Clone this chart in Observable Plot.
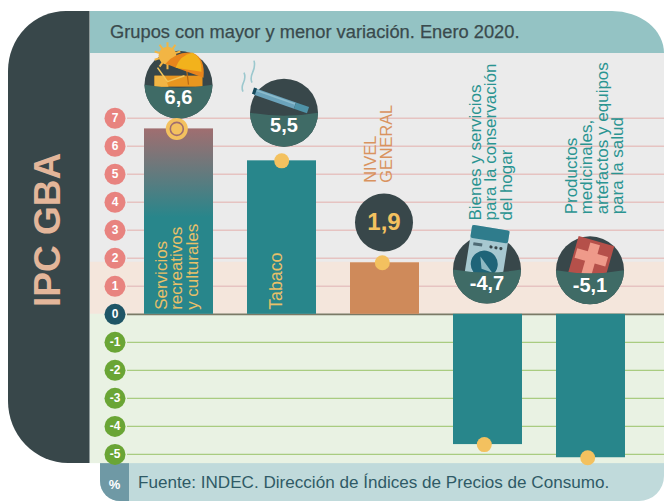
<!DOCTYPE html>
<html><head><meta charset="utf-8">
<script src="https://cdn.jsdelivr.net/npm/d3@7"></script>
<script src="https://cdn.jsdelivr.net/npm/@observablehq/plot@0.6"></script>
<style>
html,body{margin:0;padding:0;background:#fff;width:664px;height:501px;overflow:hidden;font-family:"Liberation Sans",sans-serif}
#page{position:relative;width:664px;height:501px}
.b{position:absolute}
#left{left:8px;top:11px;width:82px;height:452px;background:#38474a;border-radius:58px 0 0 60px/60px 0 0 62px;border-right:1px solid #8e9a9a;box-sizing:border-box}
#gray{left:90px;top:53px;width:574px;height:262px;background:#ebebeb}
#head{left:90px;top:11px;width:574px;height:42px;background:#94c3c4;border-top-right-radius:52px 42px;color:#3a4a4d;font-size:18.3px;font-weight:400;line-height:42px;text-indent:20px;-webkit-text-stroke:.25px #3a4a4d;white-space:nowrap}
#foot{left:100px;top:463px;width:564px;height:38px;background:#c0dadb;border-radius:0 0 25px 20px;color:#2f5a66;font-size:17.1px;line-height:40px;text-indent:38px;white-space:nowrap}
#pct{left:100px;top:463px;width:29px;height:38px;background:#6f99a5;border-radius:0 0 0 20px;color:#fff;font-size:13px;font-weight:700;line-height:44px;text-align:center}
#ipc{left:33px;top:153px;height:154px;width:30px;writing-mode:vertical-rl;transform:rotate(180deg);color:#e3b69a;font-size:37px;font-weight:700;line-height:30px;text-align:center;white-space:nowrap}
#chart{position:absolute;left:0;top:0}
</style></head><body>
<div id="page">
<div class="b" id="left"></div>
<div class="b" id="gray"></div>
<div class="b" id="head">Grupos con mayor y menor variación. Enero 2020.</div>
<div class="b" id="foot">Fuente: INDEC. Dirección de Índices de Precios de Consumo.</div>
<div class="b" id="pct">%</div>
<div class="b" id="ipc">IPC GBA</div>
<div id="chart"></div>
</div>
<script>
const categories = ["Servicios\nrecreativos\ny culturales","Tabaco","NIVEL\nGENERAL","Bienes y servicios\npara la conservación\ndel hogar","Productos\nmedicinales,\nartefactos y equipos\npara la salud"];
const barValues = [6.62,5.48,1.84,-4.65,-5.12];
const valueLabels = ["6,6","5,5","1,9","-4,7","-5,1"];
const tickValues = [7,6,5,4,3,2,1,0,-1,-2,-3,-4,-5];
const labelStart = [0.16,0.16,4.7,3.35,3.57];
const badgeCentre = [8.2,7.2,3.28,1.6,1.57];
const valueCentre = [7.75,6.74,3.3,1.09,1.02];

const rows = categories.map((c,i)=>({c,v:barValues[i],label:valueLabels[i],ls:labelStart[i],bc:badgeCentre[i],vc:valueCentre[i],i}));

const lower = '<path d="M-34,0Q0,6 34,0A34,34 0 0 1 -34,0Z" fill="#3f6b66"/>';
const wrap = (inner)=>"data:image/svg+xml,"+encodeURIComponent(
 `<svg xmlns="http://www.w3.org/2000/svg" width="120" height="120" viewBox="-60 -60 120 120"><circle r="34" fill="#38474a"/>${inner}${lower}</svg>`);
const sunRays = d3.range(0,360,36).map(a=>`<line x1="0" y1="-8" x2="0" y2="-13.5" transform="translate(-11,-29) rotate(${a})" stroke="#f2b544" stroke-width="2"/>`).join("");
const icons = [
 wrap(`${sunRays}<circle cx="-11" cy="-29" r="9" fill="#f2b544"/>
  <rect x="-24" y="-9" width="48" height="11" fill="#e8961f"/>
  <path d="M-24,-9L-14,-9L-10,2L-24,2Z" fill="#f2b544"/>
  <path d="M-21,-17L-11,-3L6,-9" fill="none" stroke="#f2c45a" stroke-width="1.6"/>
  <line x1="8" y1="-16" x2="10" y2="0" stroke="#b96a14" stroke-width="1.2"/>
  <path d="M-13,-21Q-2,-34 14,-32Q27,-27 25,-7Z" fill="#e8851c"/>
  <path d="M-3,-17Q2,-30 14,-32Q24,-27 23,-13Z" fill="#f2b21c"/>`),
 wrap(`<path d="M-41,-21C-45,-29 -36,-31 -40,-40" fill="none" stroke="#9cc8ce" stroke-width="1.6"/>
  <path d="M-32,-30C-36,-39 -27,-41 -30,-52" fill="none" stroke="#9cc8ce" stroke-width="1.6"/>
  <line x1="-29" y1="-21" x2="11" y2="-7" stroke="#6ba3bb" stroke-width="6.5"/>
  <line x1="-28" y1="-22.4" x2="11" y2="-8.6" stroke="#8dbccd" stroke-width="1.6"/>
  <line x1="11" y1="-7" x2="24" y2="-2.5" stroke="#4f93a8" stroke-width="6.5"/>
  <line x1="-31" y1="-22" x2="-28" y2="-21" stroke="#17495a" stroke-width="6.5"/>`),
 `data:image/svg+xml,`+encodeURIComponent(`<svg xmlns="http://www.w3.org/2000/svg" width="120" height="120" viewBox="-60 -60 120 120"><circle r="29" fill="#38474a"/></svg>`),
 wrap(`<g transform="rotate(9 0 -10)"><rect x="-20" y="-42" width="38" height="60" fill="#a7c8d0"/>
  <rect x="-20" y="-42" width="38" height="13" rx="2" fill="#2f7c8c"/>
  <rect x="-16" y="-25" width="9" height="3" fill="#4e6a74"/><circle cx="2" cy="-23" r="1.6" fill="#38474a"/><circle cx="7" cy="-23" r="1.6" fill="#38474a"/><circle cx="12" cy="-23" r="1.6" fill="#38474a"/>
  <circle cx="-2" cy="-5" r="13.5" fill="#1f6478"/><path d="M-7,-12L7,2L-4,0Z" fill="#8fb9c2"/></g>`),
 wrap(`<g transform="translate(1,-12) rotate(16)"><rect x="-18" y="-18" width="37" height="40" fill="#b5504a"/>
  <rect x="-5" y="-15" width="10" height="32" fill="#ef9a8a"/><rect x="-16" y="-6" width="32" height="10" fill="#ef9a8a"/></g>`)
];
rows.forEach((d,i)=>d.src=icons[i]);

const barFill = ["url(#barFade)","#28868b","#cf8a5a","#28868b","#28868b"];
const labelFill = ["#e9c069","#e9c069","#d9935f","#2a9491","#2a9491"];
const labelSize = [17,17.8,16.3,17,17];
const labelDx = [-1.5,-5.5,-6,3.5,4];
const labelLH = [.9,.9,1,.9,.9];
const badgeDx = [-.5,2,-1,-1,-1];
const dotDx = [-2.2,-.3,-2.7,-3.7,-3.3];
const tickFill = v=>v>0?"#e8837f":v<0?"#6aa535":"#1f5566";
const tX = 114.5;

const defs = ()=>d3.create("svg:defs").html(`<linearGradient id="barFade" x1="0" y1="0" x2="0" y2="1"><stop offset="0" stop-color="#a06e70"/><stop offset=".48" stop-color="#28868b"/></linearGradient>`).node();

const plot = Plot.plot({
  width:664,height:501,margin:0,style:{background:"transparent",fontFamily:'"Liberation Sans",sans-serif'},
  x:{type:"band",domain:categories,range:[109.9,659.1],padding:.326,axis:null},
  y:{domain:[-6.682,11.204],range:[501,0],axis:null},
  color:{type:"identity"},
  marks:[
    defs,
    Plot.rect([{a:0,b:1.86}],{y1:"a",y2:"b",fill:"#f4e6dc",insetLeft:90}),
    Plot.rect([{a:0,b:-5.33}],{y1:"a",y2:"b",fill:"#e9f2e3",insetLeft:90}),
    Plot.ruleY(tickValues.filter(v=>v>0),{stroke:"#e6c3c1",strokeWidth:1.4,insetLeft:127}),
    Plot.ruleY(tickValues.filter(v=>v<0),{stroke:"#a9cc80",strokeWidth:1.4,insetLeft:127}),
    Plot.ruleY([0],{stroke:"#7a7a66",strokeWidth:1.6,insetLeft:127}),
    Plot.barY(rows,{x:"c",y1:()=>0,y2:"v",fill:(d,i)=>barFill[i]}),
    Plot.dot(tickValues,{y:d=>d,frameAnchor:"left",dx:tX,r:10.5,fill:tickFill}),
    Plot.text(tickValues,{y:d=>d,frameAnchor:"left",textAnchor:"middle",dx:tX,text:d=>String(d),fill:"#fff",fontSize:12,fontWeight:700}),
    rows.map((d,i)=>Plot.image([d],{x:"c",y:"bc",src:"src",width:120,height:120,dx:badgeDx[i]})),
    rows.map((d,i)=>Plot.dot([d],{x:"c",y:"v",r:i==0?11:7.5,fill:"#f3c15f",dx:dotDx[i]})),
    Plot.dot([rows[0]],{x:"c",y:"v",r:6.5,fill:"#f3c15f",stroke:"#a06e70",strokeWidth:1.6,dx:dotDx[0]}),
    rows.map((d,i)=>Plot.text([d],{x:"c",y:"vc",text:"label",dx:badgeDx[i],fill:i==2?"#f3c15f":"#fff",fontSize:i==2?24:20,fontWeight:700})),
    rows.map((d,i)=>Plot.text([d],{x:"c",y:"ls",text:"c",rotate:-90,textAnchor:"start",lineAnchor:"middle",fill:labelFill[i],fontSize:labelSize[i],lineHeight:labelLH[i],dx:labelDx[i]}))
  ]
});
document.getElementById("chart").appendChild(plot);
</script>
</body></html>
